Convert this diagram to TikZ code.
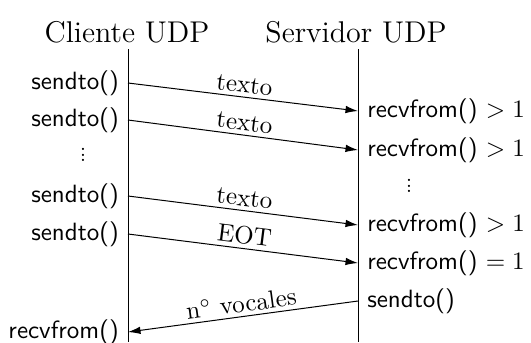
\documentclass[tikz,border=0pt]{standalone}
\usetikzlibrary{arrows.meta}
% three closely stacked dots
\newcommand\tightdots{\vbox{\footnotesize\baselineskip2.2pt\lineskiplimit-10pt\hbox{.}\hbox{.}\hbox{.}}}
\begin{document}
\begin{tikzpicture}[x=0.4pt,y=-0.4pt,
  lifeline/.style={line width=0.4pt},
  msg/.style={-{Latex[length=5pt,width=3pt]}, line width=0.4pt},
  call/.style={font=\sffamily, inner sep=3.5pt},
  heading/.style={font=\large, anchor=base},
  ellipsis/.style={inner sep=0pt},
  tag/.style={sloped, above, inner sep=1.5pt}]
\useasboundingbox (0,0) rectangle (531,342);

% headings
\node[heading] (tc) at (127,42) {Cliente UDP};
\node[heading] (ts) at (356,42) {Servidor UDP};

% lifelines
\coordinate (ctop) at (128,49); \coordinate (cbot) at (128,342);
\coordinate (stop) at (358,49); \coordinate (sbot) at (358,342);
\draw[lifeline] (ctop) -- (cbot);
\draw[lifeline] (stop) -- (sbot);

% message end points
\coordinate (c1) at (128,83);  \coordinate (s1) at (358,111);
\coordinate (c2) at (128,120); \coordinate (s2) at (358,150);
\coordinate (c3) at (128,196); \coordinate (s3) at (358,225);
\coordinate (c4) at (128,234); \coordinate (s4) at (358,263);
\coordinate (s5) at (358,301); \coordinate (c5) at (128,332);

% client calls
\node[call, anchor=east] (lc1) at (c1) {sendto()};
\node[call, anchor=east] (lc2) at (c2) {sendto()};
\node[ellipsis] (ldots) at (83,155) {\tightdots};
\node[call, anchor=east] (lc3) at (c3) {sendto()};
\node[call, anchor=east] (lc4) at (c4) {sendto()};
\node[call, anchor=east] (lc5) at (c5) {recvfrom()};

% server calls
\node[call, anchor=west] (rs1) at (s1) {recvfrom() $>1$};
\node[call, anchor=west] (rs2) at (s2) {recvfrom() $>1$};
\node[ellipsis] (rdots) at (409,186) {\tightdots};
\node[call, anchor=west] (rs3) at (s3) {recvfrom() $>1$};
\node[call, anchor=west] (rs4) at (s4) {recvfrom() $=1$};
\node[call, anchor=west] (rs5) at (s5) {sendto()};

% messages
\draw[msg] (c1) -- node[tag] (m1) {texto} (s1);
\draw[msg] (c2) -- node[tag] (m2) {texto} (s2);
\draw[msg] (c3) -- node[tag] (m3) {texto} (s3);
\draw[msg] (c4) -- node[tag] (m4) {EOT} (s4);
\draw[msg] (s5) -- node[tag] (m5) {n$^\circ$ vocales} (c5);
\end{tikzpicture}
\end{document}
